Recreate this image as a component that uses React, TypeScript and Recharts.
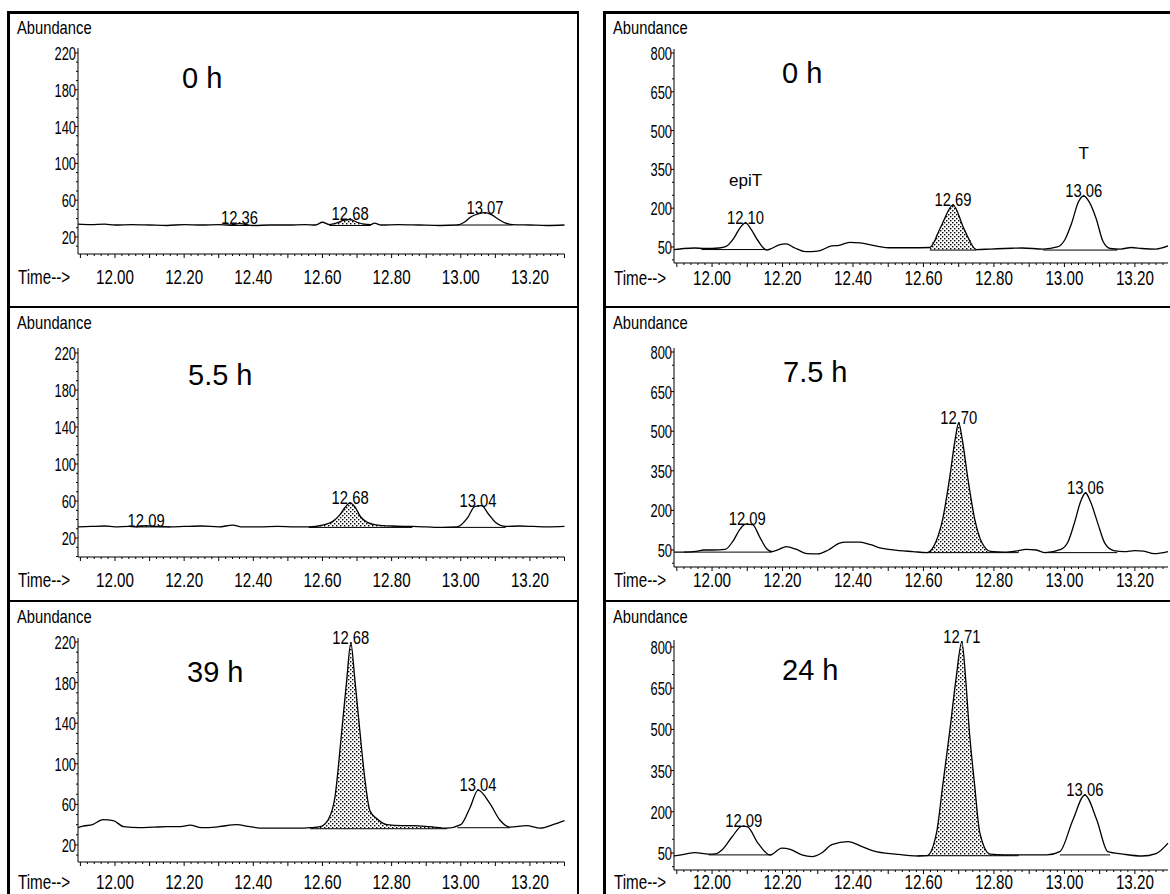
import React from "react";
import { ComposedChart, Line, Area, XAxis, YAxis, Scatter } from "recharts";

type Pt = [number, number];
type Peak = {
  rt: number;
  h: number;
  label: string;
  from: number;
  to: number;
  base: number;
  shaded?: boolean;
  name?: string;
};

// retention time (min) / abundance pairs

// left column
const left0h: Pt[] = [
  [11.893, 34], [11.93, 33.5], [11.97, 34], [12.0, 33], [12.05, 33.5], [12.1, 33],
  [12.15, 32.5], [12.2, 33.5], [12.25, 33], [12.3, 33.5], [12.33, 33], [12.36, 34.5],
  [12.4, 32.5], [12.45, 33], [12.5, 33], [12.55, 33.5], [12.58, 33], [12.6, 36],
  [12.62, 33.5], [12.64, 35], [12.66, 38], [12.68, 39], [12.7, 36], [12.72, 34],
  [12.74, 33.5], [12.75, 35], [12.77, 33], [12.82, 33.5], [12.88, 33], [12.94, 32.5],
  [12.99, 33], [13.01, 36], [13.03, 42], [13.05, 45], [13.07, 46.5], [13.09, 44],
  [13.11, 39], [13.13, 35], [13.15, 33.5], [13.2, 33], [13.25, 32.5], [13.3, 33],
];
const left0hPeaks: Peak[] = [
  { rt: 12.36, h: 35, label: "12.36", from: 12.33, to: 12.4, base: 32.5 },
  { rt: 12.68, h: 39, label: "12.68", from: 12.62, to: 12.74, base: 32.5, shaded: true },
  { rt: 13.07, h: 46.5, label: "13.07", from: 12.99, to: 13.15, base: 33 },
];

const left5h: Pt[] = [
  [11.893, 32], [11.93, 32.5], [11.97, 33], [12.0, 32], [12.04, 32.5], [12.06, 32],
  [12.09, 33.5], [12.12, 32.5], [12.16, 32], [12.2, 32.5], [12.25, 33], [12.3, 32],
  [12.34, 34], [12.37, 32], [12.42, 32], [12.47, 32.5], [12.52, 32], [12.56, 32],
  [12.6, 34], [12.63, 38], [12.65, 45], [12.665, 53], [12.68, 58], [12.695, 53],
  [12.71, 43], [12.73, 37], [12.76, 34], [12.8, 33], [12.86, 32.5], [12.9, 32],
  [12.95, 31.5], [12.99, 32], [13.02, 42], [13.04, 54], [13.06, 55], [13.08, 46],
  [13.1, 37], [13.13, 32.5], [13.17, 33], [13.21, 32.5], [13.25, 32], [13.3, 32.5],
];
const left5hPeaks: Peak[] = [
  { rt: 12.09, h: 33.5, label: "12.09", from: 12.06, to: 12.16, base: 32 },
  { rt: 12.68, h: 58, label: "12.68", from: 12.56, to: 12.86, base: 31.5, shaded: true },
  { rt: 13.05, h: 55, label: "13.04", from: 12.95, to: 13.13, base: 31.5 },
];

const left39h: Pt[] = [
  [11.893, 37], [11.907, 38.5], [11.935, 40], [11.965, 45], [11.995, 44], [12.025, 38],
  [12.07, 37], [12.11, 37.5], [12.15, 38], [12.19, 38], [12.217, 39.5], [12.25, 37],
  [12.3, 38], [12.352, 40], [12.39, 38], [12.43, 36.5], [12.48, 36.5], [12.535, 36.5],
  [12.564, 37], [12.593, 38], [12.616, 44.6], [12.636, 67], [12.656, 133], [12.67, 182],
  [12.682, 219], [12.694, 182], [12.708, 133], [12.723, 84], [12.737, 54], [12.757, 46],
  [12.786, 40], [12.83, 39], [12.862, 39], [12.91, 38], [12.96, 36.5], [13.0, 40],
  [13.027, 57], [13.05, 74], [13.084, 61], [13.113, 44.6], [13.142, 37.6], [13.19, 39],
  [13.23, 36.5], [13.267, 40], [13.3, 44],
];
const left39hPeaks: Peak[] = [
  { rt: 12.682, h: 219, label: "12.68", from: 12.564, to: 12.96, base: 36, shaded: true },
  { rt: 13.05, h: 74, label: "13.04", from: 12.99, to: 13.142, base: 37 },
];

// right column
const right0h: Pt[] = [
  [11.892, 40], [11.92, 44], [11.95, 46], [11.98, 44], [12.02, 46], [12.04, 52],
  [12.06, 80], [12.08, 125], [12.095, 143], [12.11, 120], [12.13, 75], [12.155, 38],
  [12.17, 45], [12.19, 58], [12.21, 62], [12.235, 46], [12.265, 32], [12.3, 34],
  [12.34, 54], [12.36, 56], [12.39, 68], [12.42, 66], [12.46, 55], [12.5, 47],
  [12.56, 47], [12.618, 48], [12.65, 130], [12.684, 212], [12.715, 120], [12.75, 40],
  [12.79, 42], [12.85, 45], [12.88, 46], [12.94, 42], [12.98, 50], [13.0, 75],
  [13.02, 140], [13.04, 225], [13.055, 247], [13.07, 225], [13.09, 160], [13.11, 70],
  [13.13, 44], [13.16, 42], [13.19, 48], [13.22, 44], [13.26, 42], [13.294, 54],
];
const right0hPeaks: Peak[] = [
  { rt: 12.095, h: 143, label: "12.10", from: 11.97, to: 12.155, base: 40, name: "epiT" },
  { rt: 12.684, h: 212, label: "12.69", from: 12.618, to: 12.75, base: 38, shaded: true },
  { rt: 13.055, h: 247, label: "13.06", from: 12.94, to: 13.15, base: 38, name: "T" },
];

const right7h: Pt[] = [
  [11.892, 42], [11.92, 42], [11.96, 46], [11.975, 50], [12.0, 50], [12.037, 52],
  [12.06, 85], [12.08, 130], [12.095, 148], [12.115, 146], [12.135, 100], [12.155, 55],
  [12.17, 44], [12.19, 52], [12.21, 63], [12.24, 52], [12.27, 36], [12.3, 35],
  [12.33, 50], [12.36, 75], [12.38, 80], [12.42, 80], [12.45, 70], [12.48, 57],
  [12.53, 48], [12.57, 44], [12.61, 40], [12.635, 80], [12.655, 170], [12.675, 330],
  [12.69, 470], [12.7, 531], [12.71, 470], [12.725, 330], [12.745, 170], [12.765, 80],
  [12.79, 45], [12.83, 42], [12.87, 48], [12.89, 52], [12.92, 50], [12.945, 40],
  [12.99, 52], [13.01, 80], [13.03, 160], [13.045, 230], [13.06, 266], [13.075, 230],
  [13.095, 150], [13.115, 75], [13.14, 48], [13.17, 44], [13.2, 48], [13.225, 46],
  [13.255, 36], [13.294, 44],
];
const right7hPeaks: Peak[] = [
  { rt: 12.1, h: 150, label: "12.09", from: 11.92, to: 12.17, base: 42 },
  { rt: 12.7, h: 531, label: "12.70", from: 12.61, to: 12.87, base: 40, shaded: true },
  { rt: 13.06, h: 266, label: "13.06", from: 12.945, to: 13.15, base: 40 },
];

const right24h: Pt[] = [
  [11.892, 39], [11.92, 45], [11.952, 51], [11.99, 46], [12.013, 48], [12.028, 61],
  [12.057, 109], [12.085, 148], [12.1, 146], [12.13, 86], [12.165, 43], [12.198, 68],
  [12.222, 63], [12.255, 43], [12.284, 37], [12.312, 51], [12.34, 80], [12.386, 91],
  [12.426, 73], [12.46, 57], [12.52, 46], [12.585, 39], [12.61, 40], [12.637, 123],
  [12.655, 300], [12.675, 498], [12.692, 680], [12.709, 819], [12.72, 680], [12.73, 498],
  [12.745, 300], [12.76, 123], [12.789, 46], [12.83, 43], [12.87, 43], [12.95, 43],
  [12.987, 55], [13.024, 170], [13.058, 261], [13.092, 170], [13.123, 55], [13.166, 46],
  [13.22, 39], [13.26, 48], [13.294, 86],
];
const right24hPeaks: Peak[] = [
  { rt: 12.09, h: 148, label: "12.09", from: 11.99, to: 12.17, base: 43 },
  { rt: 12.709, h: 819, label: "12.71", from: 12.585, to: 12.87, base: 40, shaded: true },
  { rt: 13.058, h: 261, label: "13.06", from: 12.987, to: 13.13, base: 43 },
];

const leftYLabels = [20, 60, 100, 140, 180, 220];
const rightYLabels = [50, 200, 350, 500, 650, 800];
const xLabels = ["12.00", "12.20", "12.40", "12.60", "12.80", "13.00", "13.20"];
const sampleTimes = ["0 h", "5.5 h", "39 h", "0 h", "7.5 h", "24 h"];

const FONT = "'Liberation Sans', Arial, Helvetica, sans-serif";

type Layout = {
  top: number;
  plotLeft: number;
  plotRight: number;
  plotTop: number;
  plotBottom: number;
  xDomain: [number, number];
  yDomain: [number, number];
  labelGap: number;
  frameX: number;
  bigX: number;
  bigY: number;
};

const L = { plotLeft: 78, plotRight: 564.5, xDomain: [11.893, 13.3] as [number, number], frameX: 17 };
const R = { plotLeft: 674, plotRight: 1168, xDomain: [11.892, 13.294] as [number, number], frameX: 613 };

const panels: { lay: Layout; trace: Pt[]; peaks: Peak[]; yLabels: number[]; yStep: number }[] = [
  { lay: { ...L, top: 12, plotTop: 48, plotBottom: 254, yDomain: [1.5, 225.4], labelGap: 30, bigX: 182, bigY: 88 }, trace: left0h, peaks: left0hPeaks, yLabels: leftYLabels, yStep: 10 },
  { lay: { ...L, top: 307, plotTop: 348, plotBottom: 557, yDomain: [-0.5, 225.4], labelGap: 30, bigX: 188, bigY: 385 }, trace: left5h, peaks: left5hPeaks, yLabels: leftYLabels, yStep: 10 },
  { lay: { ...L, top: 601, plotTop: 638, plotBottom: 862, yDomain: [3.2, 224], labelGap: 27, bigX: 187, bigY: 682 }, trace: left39h, peaks: left39hPeaks, yLabels: leftYLabels, yStep: 10 },
  { lay: { ...R, top: 12, plotTop: 49, plotBottom: 263, yDomain: [-12, 815.5], labelGap: 22, bigX: 782, bigY: 83 }, trace: right0h, peaks: right0hPeaks, yLabels: rightYLabels, yStep: 50 },
  { lay: { ...R, top: 307, plotTop: 348, plotBottom: 567, yDomain: [-14.4, 815.2], labelGap: 20, bigX: 783, bigY: 382 }, trace: right7h, peaks: right7hPeaks, yLabels: rightYLabels, yStep: 50 },
  { lay: { ...R, top: 601, plotTop: 640, plotBottom: 870, yDomain: [-12, 825.5], labelGap: 19, bigX: 782, bigY: 680 }, trace: right24h, peaks: right24hPeaks, yLabels: rightYLabels, yStep: 50 },
];

function buildRows(trace: Pt[], peaks: Peak[]) {
  const rows: any[] = trace.map(([t, v]) => ({ t, v }));
  peaks.forEach((p, i) => {
    [p.from, p.to].forEach((end) => {
      let r = rows.find((row) => Math.abs(row.t - end) < 1e-6);
      if (!r) {
        r = { t: end };
        rows.push(r);
      }
      r[`b${i}`] = p.base;
    });
    if (p.shaded) {
      rows.forEach((r) => {
        if (r.v !== undefined && r.t >= p.from - 1e-6 && r.t <= p.to + 1e-6) r.fill = [p.base, r.v];
      });
    }
  });
  rows.sort((a, b) => a.t - b.t);
  return rows;
}

function Panel({ lay, trace, peaks, yLabels, yStep, id }: any) {
  const rows = buildRows(trace, peaks);
  const W = 60;
  const M = 45;
  const H = 36;
  const plotW = lay.plotRight - lay.plotLeft;
  const plotH = lay.plotBottom - lay.plotTop;

  const xTicks: number[] = [];
  for (let k = 595; k <= 665; k++) if (k / 50 <= lay.xDomain[1] + 1e-9) xTicks.push(k / 50);
  const yTicks: number[] = [];
  for (let v = 0; v <= yLabels[yLabels.length - 1]; v += yStep) if (v >= lay.yDomain[0]) yTicks.push(v);

  const xTick = (props: any) => {
    const { x, y, payload } = props;
    const v = payload.value as number;
    const major = Math.round(v * 50) % 5 === 0;
    const lab = v.toFixed(2);
    return (
      <g>
        <line x1={x} x2={x} y1={y} y2={y + (major ? 4 : 2)} stroke="#000" strokeWidth={1} />
        {xLabels.includes(lab) && (
          <text transform={`translate(${x},${y + lay.labelGap}) scale(0.76,1)`} textAnchor="middle" fontSize={20} fontFamily={FONT} fill="#000">
            {lab}
          </text>
        )}
      </g>
    );
  };

  const yTick = (props: any) => {
    const { x, y, payload } = props;
    const v = payload.value as number;
    const major = yLabels.includes(v);
    return (
      <g>
        <line x1={x} x2={x - (major ? 3 : 2)} y1={y} y2={y} stroke="#000" strokeWidth={1} />
        {major && (
          <text transform={`translate(${x - 2},${y + 7}) scale(0.68,1)`} textAnchor="end" fontSize={19} fontFamily={FONT} fill="#000">
            {v}
          </text>
        )}
      </g>
    );
  };

  const apexLabel = (props: any) => {
    const { cx, cy, payload } = props;
    return (
      <g>
        <text transform={`translate(${cx},${cy + 1}) scale(0.78,1)`} textAnchor="middle" fontSize={19} fontFamily={FONT} fill="#000">
          {payload.label}
        </text>
        {payload.name && (
          <text x={cx} y={cy - 37} textAnchor="middle" fontSize={17} fontFamily={FONT} fill="#000">
            {payload.name}
          </text>
        )}
      </g>
    );
  };

  return (
    <div style={{ position: "absolute", left: lay.plotLeft - W, top: lay.plotTop - M }}>
      <ComposedChart
        width={W + plotW + 6}
        height={M + plotH + H}
        data={rows}
        margin={{ top: M, right: 6, bottom: 0, left: 0 }}
      >
        <defs>
          <pattern id={`dots-${id}`} width={4} height={4} patternUnits="userSpaceOnUse">
            <rect width={4} height={4} fill="#fff" />
            <rect x={0} y={0} width={1.4} height={1.4} fill="#000" />
            <rect x={2} y={2} width={1.4} height={1.4} fill="#000" />
          </pattern>
        </defs>
        <XAxis
          dataKey="t"
          type="number"
          domain={lay.xDomain}
          ticks={xTicks}
          interval={0}
          tick={xTick}
          tickLine={false}
          tickSize={0}
          tickMargin={0}
          axisLine={{ stroke: "#000", strokeWidth: 1 }}
          height={H}
        />
        <YAxis
          type="number"
          domain={lay.yDomain}
          ticks={yTicks}
          interval={0}
          tick={yTick}
          tickLine={false}
          tickSize={0}
          tickMargin={0}
          axisLine={{ stroke: "#000", strokeWidth: 1 }}
          width={W}
        />
        <Area
          type="monotone"
          dataKey="fill"
          fill={`url(#dots-${id})`}
          fillOpacity={1}
          stroke="none"
          dot={false}
          activeDot={false}
          isAnimationActive={false}
        />
        {peaks.map((_: Peak, i: number) => (
          <Line
            key={i}
            type="linear"
            dataKey={`b${i}`}
            stroke="#000"
            strokeWidth={1}
            dot={false}
            activeDot={false}
            connectNulls
            isAnimationActive={false}
          />
        ))}
        <Line
          type="monotone"
          dataKey="v"
          stroke="#000"
          strokeWidth={1.3}
          dot={false}
          activeDot={false}
          connectNulls
          isAnimationActive={false}
        />
        <Scatter
          data={peaks.map((p: Peak) => ({ t: p.rt, h: p.h, label: p.label, name: p.name }))}
          dataKey="h"
          shape={apexLabel}
          isAnimationActive={false}
        />
      </ComposedChart>
    </div>
  );
}

export default function App() {
  return (
    <div style={{ position: "absolute", left: 0, top: 0, width: 1170, height: 894, background: "#fff", overflow: "hidden" }}>
      <svg width={1170} height={894} style={{ position: "absolute", left: 0, top: 0 }}>
        {/* frames */}
        <line x1={8.5} x2={8.5} y1={11} y2={894} stroke="#000" strokeWidth={3} />
        <line x1={7} x2={579} y1={12.5} y2={12.5} stroke="#000" strokeWidth={3} />
        <line x1={578} x2={578} y1={11} y2={894} stroke="#000" strokeWidth={2} />
        <line x1={7} x2={579} y1={307} y2={307} stroke="#000" strokeWidth={2} />
        <line x1={7} x2={579} y1={601} y2={601} stroke="#000" strokeWidth={2} />
        <line x1={604.5} x2={604.5} y1={11} y2={894} stroke="#000" strokeWidth={3} />
        <line x1={603} x2={1170} y1={12.5} y2={12.5} stroke="#000" strokeWidth={3} />
        <line x1={603} x2={1170} y1={307} y2={307} stroke="#000" strokeWidth={2} />
        <line x1={603} x2={1170} y1={601} y2={601} stroke="#000" strokeWidth={2} />
        {panels.map(({ lay }, i) => (
          <g key={i} fontFamily={FONT} fill="#000">
            <text transform={`translate(${lay.frameX},${lay.top + 22}) scale(0.82,1)`} fontSize={18}>
              Abundance
            </text>
            <text transform={`translate(${lay.frameX + 1},${lay.plotBottom + lay.labelGap}) scale(0.76,1)`} fontSize={20}>
              Time--&gt;
            </text>
            <text x={lay.bigX} y={lay.bigY} fontSize={29}>
              {sampleTimes[i]}
            </text>
          </g>
        ))}
      </svg>
      {panels.map((p, i) => (
        <Panel key={i} id={i} lay={p.lay} trace={p.trace} peaks={p.peaks} yLabels={p.yLabels} yStep={p.yStep} />
      ))}
    </div>
  );
}
